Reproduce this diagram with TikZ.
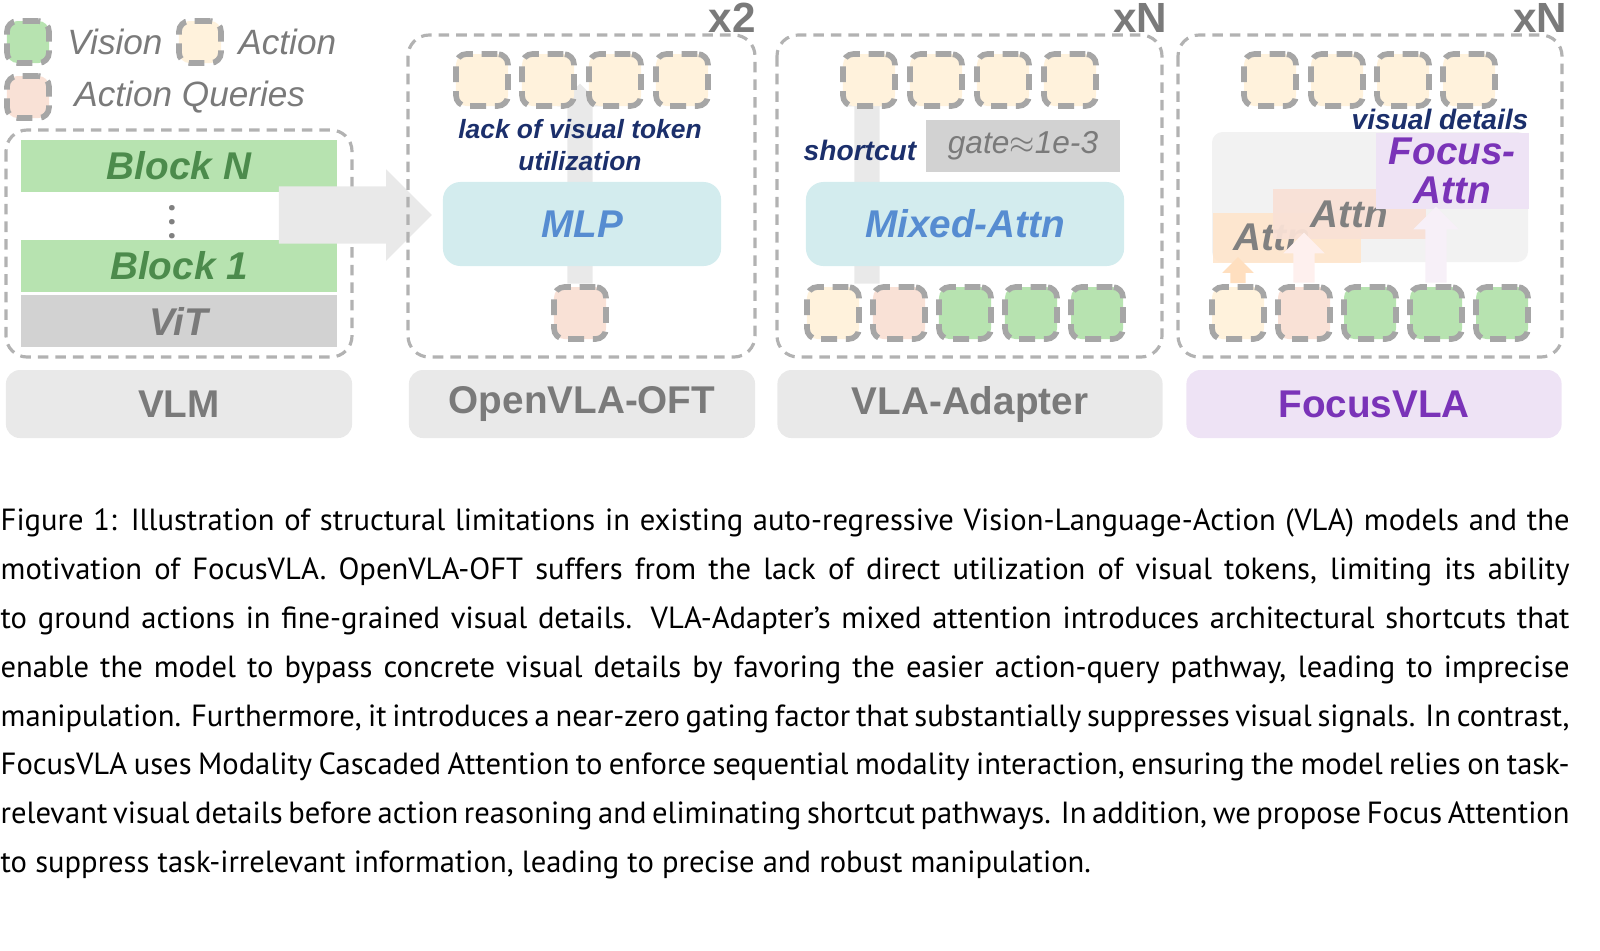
\documentclass[tikz,border=0pt]{standalone}
\usepackage{fontspec}
\setmainfont{PT Sans}
\newfontfamily\arialfont{Liberation Sans}
\usetikzlibrary{shapes.arrows}
\definecolor{visgreen}{HTML}{B7E3B0}
\definecolor{actyellow}{HTML}{FFF2DC}
\definecolor{qpink}{HTML}{F9E1D6}
\definecolor{mlpcyan}{HTML}{D3ECEE}
\definecolor{lavender}{HTML}{EEE3F5}
\definecolor{navy}{HTML}{1B2F6B}
\definecolor{txtgray}{HTML}{7A7A7A}
\definecolor{boxgray}{HTML}{E9E9E9}
\tikzset{
  tok/.style={draw=gray!70,line width=1.6pt,dash pattern=on 4.5pt off 2.5pt,
    rounded corners=3pt,minimum size=0.48cm,inner sep=0pt},
  panel/.style={draw=gray!60,line width=0.9pt,dash pattern=on 3pt off 2pt,rounded corners=6pt},
  tag/.style={fill=boxgray,rounded corners=4pt,font=\arialfont\bfseries\fontsize{11}{11}\selectfont,text=txtgray},
  bigtxt/.style={font=\arialfont\bfseries\itshape\fontsize{11}{11}\selectfont},
  legtxt/.style={anchor=west,font=\arialfont\itshape\fontsize{10}{10}\selectfont,text=txtgray},
  note/.style={font=\arialfont\bfseries\itshape\fontsize{7.5}{9}\selectfont,text=navy,align=center},
  uparr/.style={single arrow,minimum height=#1,single arrow head extend=0.1cm,
    inner sep=0.12cm,shape border rotate=90,draw=none}
}
\begin{document}
\begin{tikzpicture}[x=0.01cm,y=-0.01cm]
\useasboundingbox (0,0) rectangle (1600,950);
% legend
\node[tok,fill=visgreen,minimum size=0.42cm] (lv) at (28,42) {};
\node[legtxt] at (55,42) {Vision};
\node[tok,fill=actyellow,minimum size=0.42cm] (la) at (200,42) {};
\node[legtxt] at (226,42) {Action};
\node[tok,fill=qpink,minimum size=0.42cm] (lq) at (28,97) {};
\node[legtxt] at (62,97) {Action Queries};

% VLM
\draw[panel] (6,130) rectangle (352,357);
\node[fill=visgreen,minimum width=3.15cm,minimum height=0.4cm,bigtxt,text=green!35!black!70] (bn) at (179,166) {Block N};
\node[font=\bfseries,text=gray] at (172,212) {$\vdots$};
\node[fill=visgreen,minimum width=3.15cm,minimum height=0.4cm,bigtxt,text=green!35!black!70] (b1) at (179,266) {Block 1};
\node[fill=gray!35,minimum width=3.15cm,minimum height=0.42cm,bigtxt,text=txtgray] (vit) at (179,321) {ViT};
\node[tag,minimum width=3.46cm,minimum height=0.68cm] (tvlm) at (179,404) {VLM};
\node[single arrow,fill=boxgray,minimum height=1.53cm,inner sep=0.28cm,
  single arrow head extend=0.17cm] (big) at (341,215) {};

% OpenVLA-OFT
\draw[panel] (408,35) rectangle (755,357);
\node[font=\arialfont\bfseries\fontsize{12}{12}\selectfont,text=txtgray] at (732,18) {x2};
\node[uparr=2.0cm,fill=boxgray] (oa) at (580,190) {};
\foreach \x [count=\i] in {482,548,615,682}
  \node[tok,fill=actyellow,minimum size=0.52cm] (o\i) at (\x,80) {};
\node[fill=mlpcyan,rounded corners=5pt,minimum width=2.78cm,minimum height=0.84cm,bigtxt,text=cyan!50!blue!70] (mlp) at (582,224) {MLP};
\node[note] (lack) at (580,145) {lack of visual token\\utilization};
\node[tok,fill=qpink,minimum size=0.52cm] (oq) at (580,313) {};
\node[tag,minimum width=3.46cm,minimum height=0.68cm] (toft) at (582,404) {OpenVLA-OFT};

% VLA-Adapter
\draw[panel] (777,35) rectangle (1162,357);
\node[font=\arialfont\bfseries\fontsize{12}{12}\selectfont,text=txtgray] at (1140,18) {xN};
\node[uparr=2.0cm,fill=boxgray] (sa) at (867,190) {};
\foreach \x [count=\i] in {869,936,1003,1070}
  \node[tok,fill=actyellow,minimum size=0.52cm] (a\i) at (\x,80) {};
\node[note,font=\arialfont\bfseries\itshape\fontsize{8}{9}\selectfont] (sc) at (860,150) {shortcut};
\node[fill=gray!35,minimum width=1.93cm,minimum height=0.47cm,font=\arialfont\itshape\fontsize{9}{9}\selectfont,text=txtgray] (gate) at (1023,146) {gate$\approx$1e-3};
\node[fill=mlpcyan,rounded corners=5pt,minimum width=3.18cm,minimum height=0.84cm,bigtxt,text=cyan!50!blue!70] (mix) at (965,224) {Mixed-Attn};
\foreach \x/\c [count=\i] in {833/actyellow,899/qpink,965/visgreen,1031/visgreen,1097/visgreen}
  \node[tok,fill=\c,minimum size=0.52cm] (b\i) at (\x,313) {};
\node[tag,minimum width=3.85cm,minimum height=0.68cm] (tad) at (970,404) {VLA-Adapter};

% FocusVLA
\draw[panel] (1178,35) rectangle (1562,357);
\node[font=\arialfont\bfseries\fontsize{12}{12}\selectfont,text=txtgray] at (1540,18) {xN};
\foreach \x [count=\i] in {1270,1337,1403,1469}
  \node[tok,fill=actyellow,minimum size=0.52cm] (f\i) at (\x,80) {};
\fill[gray!10,rounded corners=3pt] (1212,132) rectangle (1528,262);
\node[fill=orange!20,opacity=0.9,text opacity=1,minimum width=1.48cm,minimum height=0.5cm,anchor=north west,bigtxt,text=gray,inner sep=0pt,align=left] (at1) at (1212,212) {\hspace*{0.2cm}Attn\hspace*{0.5cm}};
\node[fill=qpink,opacity=0.95,text opacity=1,minimum width=1.53cm,minimum height=0.49cm,anchor=north west,bigtxt,text=gray] (at2) at (1272,188) {Attn};
\node[fill=lavender,minimum width=1.53cm,minimum height=0.76cm,anchor=north west,bigtxt,text=violet!70!blue!80,align=center,inner sep=1pt] (fat) at (1375,132) {Focus-\\Attn};
\node[note,font=\arialfont\bfseries\itshape\fontsize{8}{9}\selectfont] (vd) at (1440,119) {visual details};
\node[uparr=0.26cm,fill=orange!25,inner sep=0.07cm,single arrow head extend=0.08cm] (u1) at (1238,274) {};
\node[uparr=0.5cm,fill=qpink!80!red!20,inner sep=0.1cm] (u2) at (1304,263) {};
\node[uparr=0.76cm,fill=lavender!80!violet!20,inner sep=0.1cm,single arrow head extend=0.12cm] (u3) at (1436,250) {};
\foreach \x/\c [count=\i] in {1238/actyellow,1304/qpink,1370/visgreen,1436/visgreen,1502/visgreen}
  \node[tok,fill=\c,minimum size=0.52cm] (g\i) at (\x,313) {};
\node[tag,fill=lavender,text=violet!70!blue!80,minimum width=3.75cm,minimum height=0.68cm] (tfv) at (1374,404) {FocusVLA};

% caption
\node[anchor=north west,text width=15.68cm,align=justify,inner sep=0pt,
  font=\fontsize{8.7}{13.9}\selectfont] (cap) at (0,508) {Figure 1: Illustration of structural limitations in existing auto-regressive Vision-Language-Action (VLA) models and the motivation of FocusVLA. OpenVLA-OFT suffers from the lack of direct utilization of visual tokens, limiting its ability to ground actions in fine-grained visual details. VLA-Adapter's mixed attention introduces architectural shortcuts that enable the model to bypass concrete visual details by favoring the easier action-query pathway, leading to imprecise manipulation. Furthermore, it introduces a near-zero gating factor that substantially suppresses visual signals. In contrast, FocusVLA uses Modality Cascaded Attention to enforce sequential modality interaction, ensuring the model relies on task-relevant visual details before action reasoning and eliminating shortcut pathways. In addition, we propose Focus Attention to suppress task-irrelevant information, leading to precise and robust manipulation.};
\end{tikzpicture}
\end{document}
